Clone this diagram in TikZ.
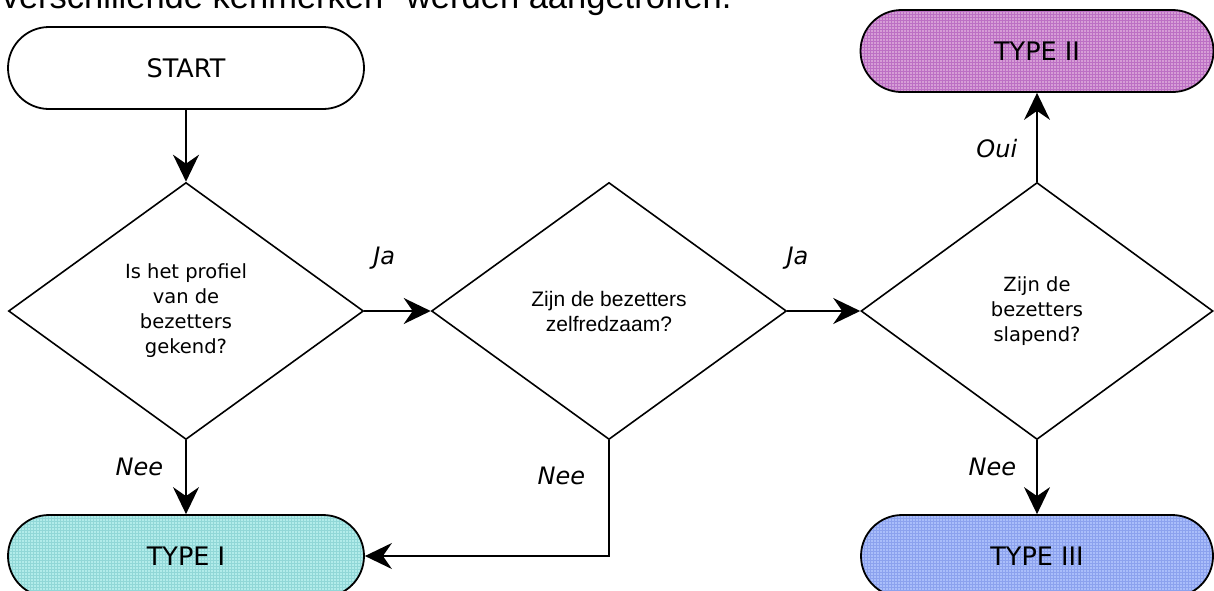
\documentclass[tikz,border=0pt]{standalone}
\usepackage{fontspec}
\setmainfont{DejaVu Sans}
\newfontfamily\arialfont{Liberation Sans}
\usetikzlibrary{positioning,arrows.meta,shapes.geometric,shapes.misc,patterns}
\definecolor{typeIfill}{RGB}{178,236,234}
\definecolor{typeIline}{RGB}{145,215,215}
\definecolor{typeIIfill}{RGB}{214,158,214}
\definecolor{typeIIline}{RGB}{188,112,196}
\definecolor{typeIIIfill}{RGB}{170,190,250}
\definecolor{typeIIIline}{RGB}{140,162,238}
\tikzset{
  flow/.style={>={Stealth[length=27pt,width=26pt,inset=9pt]},
    line width=1.6pt,
    x=1pt, y=-1pt},
  terminal/.style={rounded rectangle,draw,line width=1.8pt,
    minimum width=356pt,minimum height=82pt,inner sep=0pt,
    font=\fontsize{25.5}{30}\selectfont},
  decision/.style={diamond,draw,line width=1.6pt,aspect=1.385,
    minimum width=355pt,minimum height=257pt,inner sep=0pt,
    align=center,font=\fontsize{19.5}{25}\selectfont},
  answer/.style={inner sep=0pt,font=\fontsize{24}{28}\selectfont\itshape},
  intro/.style={inner sep=0pt,font=\arialfont\fontsize{34.5}{40}\selectfont},
  tinted/.style 2 args={preaction={fill=#1},pattern=grid,pattern color=#2}
}
\begin{document}
\begin{tikzpicture}[flow]
  \useasboundingbox (0,0) rectangle (1214,590);
  \clip (0,0) rectangle (1214,590);
  \node[intro,anchor=base west] (intro) at (1,8) {verschillende kenmerken'' werden aangetroffen.};
  % terminals and questions
  \node[terminal] (start) at (186,68) {START};
  \node[decision] (q1) at (186,311) {Is het profiel\\van de\\bezetters\\gekend?};
  \node[decision,font=\arialfont\fontsize{21}{25}\selectfont] (q2) at (609,311) {Zijn de bezetters\\zelfredzaam?};
  \node[decision,minimum width=352pt] (q3) at (1037,311) {Zijn de\\bezetters\\slapend?};
  \node[terminal,tinted={typeIfill}{typeIline}] (t1) at (186,556) {TYPE I};
  \node[terminal,tinted={typeIIfill}{typeIIline},minimum width=353pt] (t2) at (1037,51) {TYPE II};
  \node[terminal,tinted={typeIIIfill}{typeIIIline},minimum width=352pt] (t3) at (1037,556) {TYPE III};
  % connectors
  \draw[->] (start) -- (q1);
  \draw[->] (q1) -- node[answer,pos=0.3,anchor=base,yshift=47pt] (ja1) {Ja} (q2);
  \draw[->] (q2) -- node[answer,pos=0.14,anchor=base,yshift=47pt] (ja2) {Ja} (q3);
  \draw[->] (q3) -- node[answer,pos=0.37,left=19pt] (oui) {Oui} (t2);
  \draw[->] (q1) -- node[answer,pos=0.36,left=22pt] (nee1) {Nee} (t1);
  \draw[->] (q2.south) |- node[answer,pos=0.155,left=23pt] (nee2) {Nee} (t1.east);
  \draw[->] (q3) -- node[answer,pos=0.36,left=20pt] (nee3) {Nee} (t3);
\end{tikzpicture}
\end{document}
